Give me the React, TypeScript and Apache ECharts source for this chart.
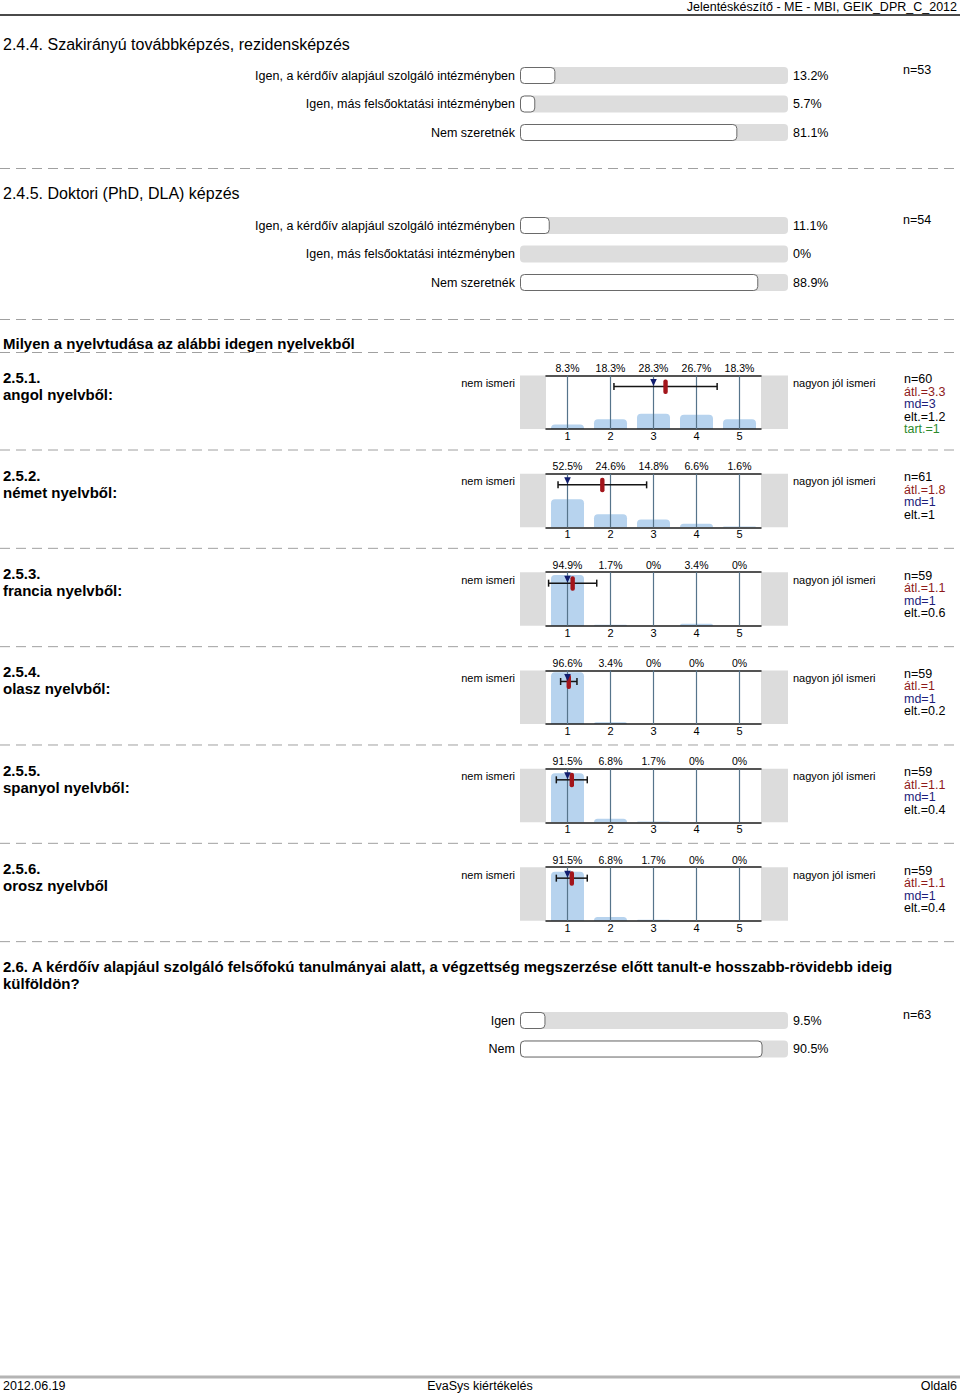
import React, { useEffect, useRef } from "react";
import * as echarts from "echarts";

const FONT = '"Liberation Sans", Arial, Helvetica, sans-serif';

// ---------- data ----------
const headerText = "Jelentéskészítő - ME - MBI, GEIK_DPR_C_2012";
const footerLeft = "2012.06.19";
const footerMid = "EvaSys kiértékelés";
const footerRight = "Oldal6";

const q244Title = "2.4.4. Szakirányú továbbképzés, rezidensképzés";
const q244Labels = ["Igen, a kérdőív alapjául szolgáló intézményben", "Igen, más felsőoktatási intézményben", "Nem szeretnék"];
const q244Values = [13.2, 5.7, 81.1];
const q244N = 53;

const q245Title = "2.4.5. Doktori (PhD, DLA) képzés";
const q245Labels = ["Igen, a kérdőív alapjául szolgáló intézményben", "Igen, más felsőoktatási intézményben", "Nem szeretnék"];
const q245Values = [11.1, 0, 88.9];
const q245N = 54;

const langSectionTitle = "Milyen a nyelvtudása az alábbi idegen nyelvekből";
const scaleTicks = ["1", "2", "3", "4", "5"];
const scaleLeft = "nem ismeri";
const scaleRight = "nagyon jól ismeri";
const langCodes = ["2.5.1.", "2.5.2.", "2.5.3.", "2.5.4.", "2.5.5.", "2.5.6."];
const langNames = ["angol nyelvből:", "német nyelvből:", "francia nyelvből:", "olasz nyelvből:", "spanyol nyelvből:", "orosz nyelvből"];
const langAngol = [8.3, 18.3, 28.3, 26.7, 18.3];
const langNemet = [52.5, 24.6, 14.8, 6.6, 1.6];
const langFrancia = [94.9, 1.7, 0, 3.4, 0];
const langOlasz = [96.6, 3.4, 0, 0, 0];
const langSpanyol = [91.5, 6.8, 1.7, 0, 0];
const langOrosz = [91.5, 6.8, 1.7, 0, 0];
const langDist = [langAngol, langNemet, langFrancia, langOlasz, langSpanyol, langOrosz];
const langN = [60, 61, 59, 59, 59, 59];
const langMean = [3.28, 1.81, 1.12, 1.03, 1.1, 1.1];
const langSd = [1.2, 1.03, 0.56, 0.19, 0.36, 0.36];
const langMedian = [3, 1, 1, 1, 1, 1];
const langAbst: (number | null)[] = [1, null, null, null, null, null];

const q26Title1 = "2.6. A kérdőív alapjául szolgáló felsőfokú tanulmányai alatt, a végzettség megszerzése előtt tanult-e hosszabb-rövidebb ideig";
const q26Title2 = "külföldön?";
const q26Labels = ["Igen", "Nem"];
const q26Values = [9.5, 90.5];
const q26N = 63;

// ---------- helpers ----------
const fmt1 = (v: number) => String(Math.round(v * 10) / 10);

function txt(text: string, x: number, y: number, o: any = {}) {
  return {
    type: "text",
    x,
    y,
    silent: true,
    z: 20,
    style: {
      text,
      fontSize: o.size ?? 12.5,
      fontFamily: FONT,
      fontWeight: o.weight ?? "normal",
      fill: o.color ?? "#000",
      align: o.align ?? "left",
      verticalAlign: "middle",
    },
  };
}

function dash(y: number) {
  return {
    type: "line",
    silent: true,
    shape: { x1: 0, y1: y + 0.5, x2: 960, y2: y + 0.5 },
    style: { stroke: "#a0a0a0", lineWidth: 1, lineDash: [10, 6] },
  };
}

function renderErr(params: any, api: any) {
  const mean = api.value(0);
  const sd = api.value(1);
  const med = api.value(2);
  const top = api.coord([mean, 100]);
  const y = top[1] + 11;
  const xm = top[0];
  const x1 = api.coord([mean - sd, 100])[0];
  const x2 = api.coord([mean + sd, 100])[0];
  const xd = api.coord([med, 100])[0];
  const ink = "#151515";
  return {
    type: "group",
    children: [
      { type: "line", shape: { x1, y1: y, x2, y2: y }, style: { stroke: ink, lineWidth: 1.5 } },
      { type: "line", shape: { x1: x1, y1: y - 3.5, x2: x1, y2: y + 3.5 }, style: { stroke: ink, lineWidth: 1.5 } },
      { type: "line", shape: { x1: x2, y1: y - 3.5, x2: x2, y2: y + 3.5 }, style: { stroke: ink, lineWidth: 1.5 } },
      { type: "rect", shape: { x: xm - 2.2, y: y - 7, width: 4.4, height: 14.5, r: 2 }, style: { fill: "#a3151b" } },
      {
        type: "polygon",
        shape: { points: [[xd - 3.3, y - 7.5], [xd + 3.3, y - 7.5], [xd, y - 0.5]] },
        style: { fill: "#111d6e" },
      },
    ],
  };
}

function buildOption() {
  const grids: any[] = [];
  const xAxes: any[] = [];
  const yAxes: any[] = [];
  const series: any[] = [];
  const g: any[] = [];

  const ROW = 28.5;
  function addBarQ(labels: string[], values: number[], firstRowY: number, n: number) {
    const gi = grids.length;
    grids.push({ left: 520, top: firstRowY - ROW / 2, width: 268, height: ROW * labels.length });
    const xi = xAxes.length;
    xAxes.push({ type: "value", gridIndex: gi, min: 0, max: 100, show: false });
    const yi = yAxes.length;
    yAxes.push({
      type: "category",
      gridIndex: gi,
      data: labels,
      inverse: true,
      axisLine: { show: false },
      axisTick: { show: false },
      axisLabel: { margin: 5, fontSize: 12.5, color: "#000", fontFamily: FONT },
    });
    yAxes.push({
      type: "category",
      gridIndex: gi,
      position: "right",
      data: values.map((v) => v + "%"),
      inverse: true,
      axisLine: { show: false },
      axisTick: { show: false },
      axisLabel: { margin: 5, fontSize: 12.5, color: "#000", fontFamily: FONT, align: "left" },
    });
    series.push({
      type: "bar",
      xAxisIndex: xi,
      yAxisIndex: yi,
      barWidth: 17,
      silent: true,
      data: values.map((v) => (v === 0 ? { value: 0, itemStyle: { borderWidth: 0, color: "transparent" } } : v)),
      itemStyle: { color: "#ffffff", borderColor: "#6a6a6a", borderWidth: 1, borderRadius: 4 },
      showBackground: true,
      backgroundStyle: { color: "#dddddd", borderRadius: 4 },
    });
    g.push(txt("n=" + n, 903, firstRowY - 5.5));
  }

  const HT = 375.5;
  const HSTEP = 98.33;
  const HH = 53.5;
  function addHist(i: number) {
    const top = HT + i * HSTEP;
    const gi = grids.length;
    grids.push({ left: 546, top, width: 215, height: HH });
    const xb = xAxes.length;
    xAxes.push({
      type: "category",
      gridIndex: gi,
      position: "bottom",
      data: scaleTicks,
      z: 3,
      axisLine: { lineStyle: { color: "#1c1c1c", width: 1.5 } },
      axisTick: { show: true, inside: true, alignWithLabel: true, interval: 0, length: HH, lineStyle: { color: "#56748b", width: 1.2 } },
      axisLabel: { interval: 0, margin: 1.5, fontSize: 11, color: "#000", fontFamily: FONT },
      splitLine: { show: false },
    });
    xAxes.push({
      type: "category",
      gridIndex: gi,
      position: "top",
      data: langDist[i].map((v) => v + "%"),
      z: 3,
      axisLine: { lineStyle: { color: "#1c1c1c", width: 1.5 } },
      axisTick: { show: false },
      axisLabel: { interval: 0, margin: 2, fontSize: 10.5, color: "#000", fontFamily: FONT },
      splitLine: { show: false },
    });
    xAxes.push({ type: "value", gridIndex: gi, min: 0.5, max: 5.5, show: false });
    const yi = yAxes.length;
    yAxes.push({ type: "value", gridIndex: gi, min: 0, max: 100, show: false });
    series.push({
      type: "bar",
      xAxisIndex: xb,
      yAxisIndex: yi,
      data: langDist[i],
      barWidth: 33,
      silent: true,
      z: 2,
      itemStyle: { color: "#b7d3ee", borderRadius: [4, 4, 0, 0] },
    });
    series.push({
      type: "custom",
      xAxisIndex: xb + 2,
      yAxisIndex: yi,
      data: [[langMean[i], langSd[i], langMedian[i]]],
      renderItem: renderErr,
      silent: true,
      clip: false,
      z: 10,
    });

    // side boxes
    g.push({ type: "rect", silent: true, shape: { x: 520, y: top, width: 26, height: HH }, style: { fill: "#dcdcdc" } });
    g.push({ type: "rect", silent: true, shape: { x: 761, y: top, width: 27, height: HH }, style: { fill: "#dcdcdc" } });
    g.push(txt(scaleLeft, 515, top + 7.5, { size: 11, align: "right" }));
    g.push(txt(scaleRight, 793, top + 7.5, { size: 11 }));
    g.push(txt(langCodes[i], 3, top + 1.5, { size: 15, weight: "bold" }));
    g.push(txt(langNames[i], 3, top + 18.5, { size: 15, weight: "bold" }));
    const stats: [string, string][] = [
      ["n=" + langN[i], "#000"],
      ["átl.=" + fmt1(langMean[i]), "#8e1a1a"],
      ["md=" + langMedian[i], "#1d1d7a"],
      ["elt.=" + fmt1(langSd[i]), "#000"],
    ];
    if (langAbst[i] !== null) stats.push(["tart.=" + langAbst[i], "#2c8a2c"]);
    stats.forEach((s, k) => g.push(txt(s[0], 904, top + 3.5 + k * 12.5, { color: s[1] })));
    g.push(dash(top + 74));
  }

  // header / footer
  g.push(txt(headerText, 957, 6.5, { align: "right" }));
  g.push({ type: "line", silent: true, shape: { x1: 0, y1: 15, x2: 960, y2: 15 }, style: { stroke: "#4a4a4a", lineWidth: 2 } });
  g.push({ type: "line", silent: true, shape: { x1: 0, y1: 1377, x2: 960, y2: 1377 }, style: { stroke: "#b4b4b4", lineWidth: 3 } });
  g.push(txt(footerLeft, 3, 1386));
  g.push(txt(footerMid, 480, 1386, { align: "center" }));
  g.push(txt(footerRight, 957, 1386, { align: "right" }));

  // section 2.4.4
  g.push(txt(q244Title, 3, 44, { size: 16 }));
  addBarQ(q244Labels, q244Values, 75.5, q244N);
  g.push(dash(168));
  // section 2.4.5
  g.push(txt(q245Title, 3, 193, { size: 16 }));
  addBarQ(q245Labels, q245Values, 225.5, q245N);
  g.push(dash(319));
  // language section
  g.push(txt(langSectionTitle, 3, 343, { size: 15, weight: "bold" }));
  g.push(dash(352));
  for (let i = 0; i < langDist.length; i++) addHist(i);
  // section 2.6
  g.push(txt(q26Title1, 3, 966, { size: 15, weight: "bold" }));
  g.push(txt(q26Title2, 3, 983, { size: 15, weight: "bold" }));
  addBarQ(q26Labels, q26Values, 1020.5, q26N);

  return {
    animation: false,
    backgroundColor: "#ffffff",
    textStyle: { fontFamily: FONT },
    grid: grids,
    xAxis: xAxes,
    yAxis: yAxes,
    series,
    graphic: { elements: g },
  };
}

export default function App() {
  const ref = useRef<HTMLDivElement>(null);
  useEffect(() => {
    if (!ref.current) return;
    const chart = echarts.init(ref.current, undefined, { renderer: "svg" });
    chart.setOption(buildOption() as any);
    return () => chart.dispose();
  }, []);
  return (
    <div
      ref={ref}
      style={{ position: "absolute", left: 0, top: 0, width: 960, height: 1395, background: "#fff" }}
    />
  );
}
